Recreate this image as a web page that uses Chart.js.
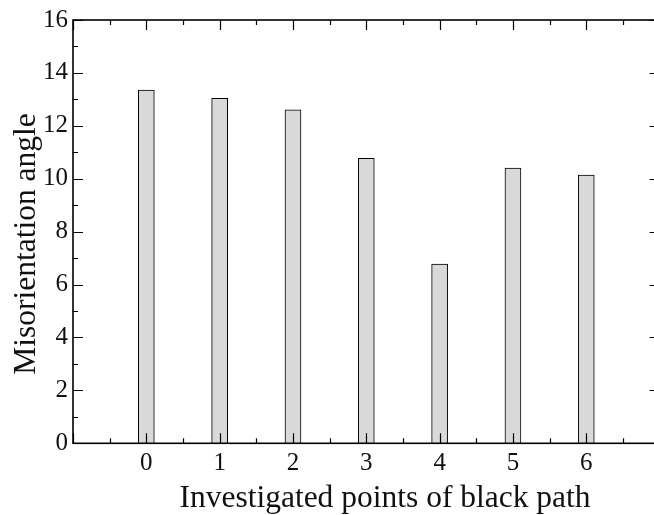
<!DOCTYPE html>
<html>
<head>
<meta charset="utf-8">
<script src="https://cdn.jsdelivr.net/npm/chart.js@4.4.1/dist/chart.umd.min.js"></script>
<style>
  html, body { margin: 0; padding: 0; background: #fff; overflow: hidden; }
  #wrap { width: 654px; height: 515px; overflow: hidden; }
  canvas { display: block; }
</style>
</head>
<body>
<div id="wrap"><canvas id="c" width="662" height="515"></canvas></div>
<script>
// Investigated points along the black path and their misorientation angles
const points = [0, 1, 2, 3, 4, 5, 6];
const angles = [13.35, 13.04, 12.60, 10.77, 6.77, 10.40, 10.14];
const yTickValues = [0, 2, 4, 6, 8, 10, 12, 14, 16];
const xTickValues = [0, 1, 2, 3, 4, 5, 6];
const xTitle = 'Investigated points of black path';
const yTitle = 'Misorientation angle';

const FONT = '"Liberation Serif", "Times New Roman", serif';
const INK = '#111';

// Frame, inward tick marks on all four sides, and the axis titles
const framePlugin = {
  id: 'frame',
  afterDatasetsDraw(chart) {
    const { ctx, chartArea: a, scales: { x, y } } = chart;
    ctx.save();
    ctx.strokeStyle = '#000';
    ctx.lineWidth = 1.2;
    ctx.beginPath();
    // x ticks: major at integers, minor at halves (bottom and top)
    for (let v = x.min; v <= x.max + 1e-9; v += 0.5) {
      const px = Math.round(x.getPixelForValue(v)) + 0.5;
      const len = Number.isInteger(v) ? 10 : 5;
      ctx.moveTo(px, a.bottom); ctx.lineTo(px, a.bottom - len);
      ctx.moveTo(px, a.top); ctx.lineTo(px, a.top + len);
    }
    // y ticks: major every 2, minor every 1 (left and right)
    for (let v = y.min; v <= y.max + 1e-9; v += 1) {
      const py = Math.round(y.getPixelForValue(v)) + 0.5;
      const len = v % 2 === 0 ? 10 : 5;
      ctx.moveTo(a.left, py); ctx.lineTo(a.left + len, py);
      ctx.moveTo(a.right, py); ctx.lineTo(a.right - len, py);
    }
    ctx.stroke();
    ctx.lineWidth = 1.6;
    ctx.strokeRect(a.left, a.top, a.right - a.left, a.bottom - a.top);

    ctx.fillStyle = INK;
    ctx.font = '31.5px ' + FONT;
    ctx.textAlign = 'center';
    ctx.textBaseline = 'alphabetic';
    ctx.fillText(xTitle, 385, 507);
    ctx.translate(35, 244);
    ctx.rotate(-Math.PI / 2);
    ctx.fillText(yTitle, 0, 0);
    ctx.restore();
  }
};

new Chart(document.getElementById('c'), {
  type: 'bar',
  data: {
    datasets: [{
      data: points.map((p, i) => ({ x: p, y: angles[i] })),
      backgroundColor: '#d9d9d9',
      borderColor: '#000',
      borderWidth: 1,
      barThickness: 16
    }]
  },
  options: {
    responsive: false,
    animation: false,
    devicePixelRatio: 1,
    layout: { padding: { top: 20, right: 2.4, left: 0, bottom: 0 } },
    plugins: { legend: { display: false }, tooltip: { enabled: false } },
    scales: {
      x: {
        type: 'linear',
        min: -1,
        max: 7,
        offset: false,
        afterFit: s => { s.height = 71.7; },
        afterBuildTicks: s => { s.ticks = xTickValues.map(v => ({ value: v })); },
        grid: { display: false, drawTicks: false, offset: false },
        border: { display: false },
        ticks: {
          padding: 5,
          color: INK,
          font: { family: FONT, size: 25 },
          maxRotation: 0,
          autoSkip: false
        }
      },
      y: {
        min: 0,
        max: 16,
        afterFit: s => { s.width = 73; },
        afterBuildTicks: s => { s.ticks = yTickValues.map(v => ({ value: v })); },
        grid: { display: false, drawTicks: false },
        border: { display: false },
        ticks: {
          padding: 5,
          color: INK,
          font: { family: FONT, size: 25 },
          autoSkip: false
        }
      }
    }
  },
  plugins: [framePlugin]
});
</script>
</body>
</html>
